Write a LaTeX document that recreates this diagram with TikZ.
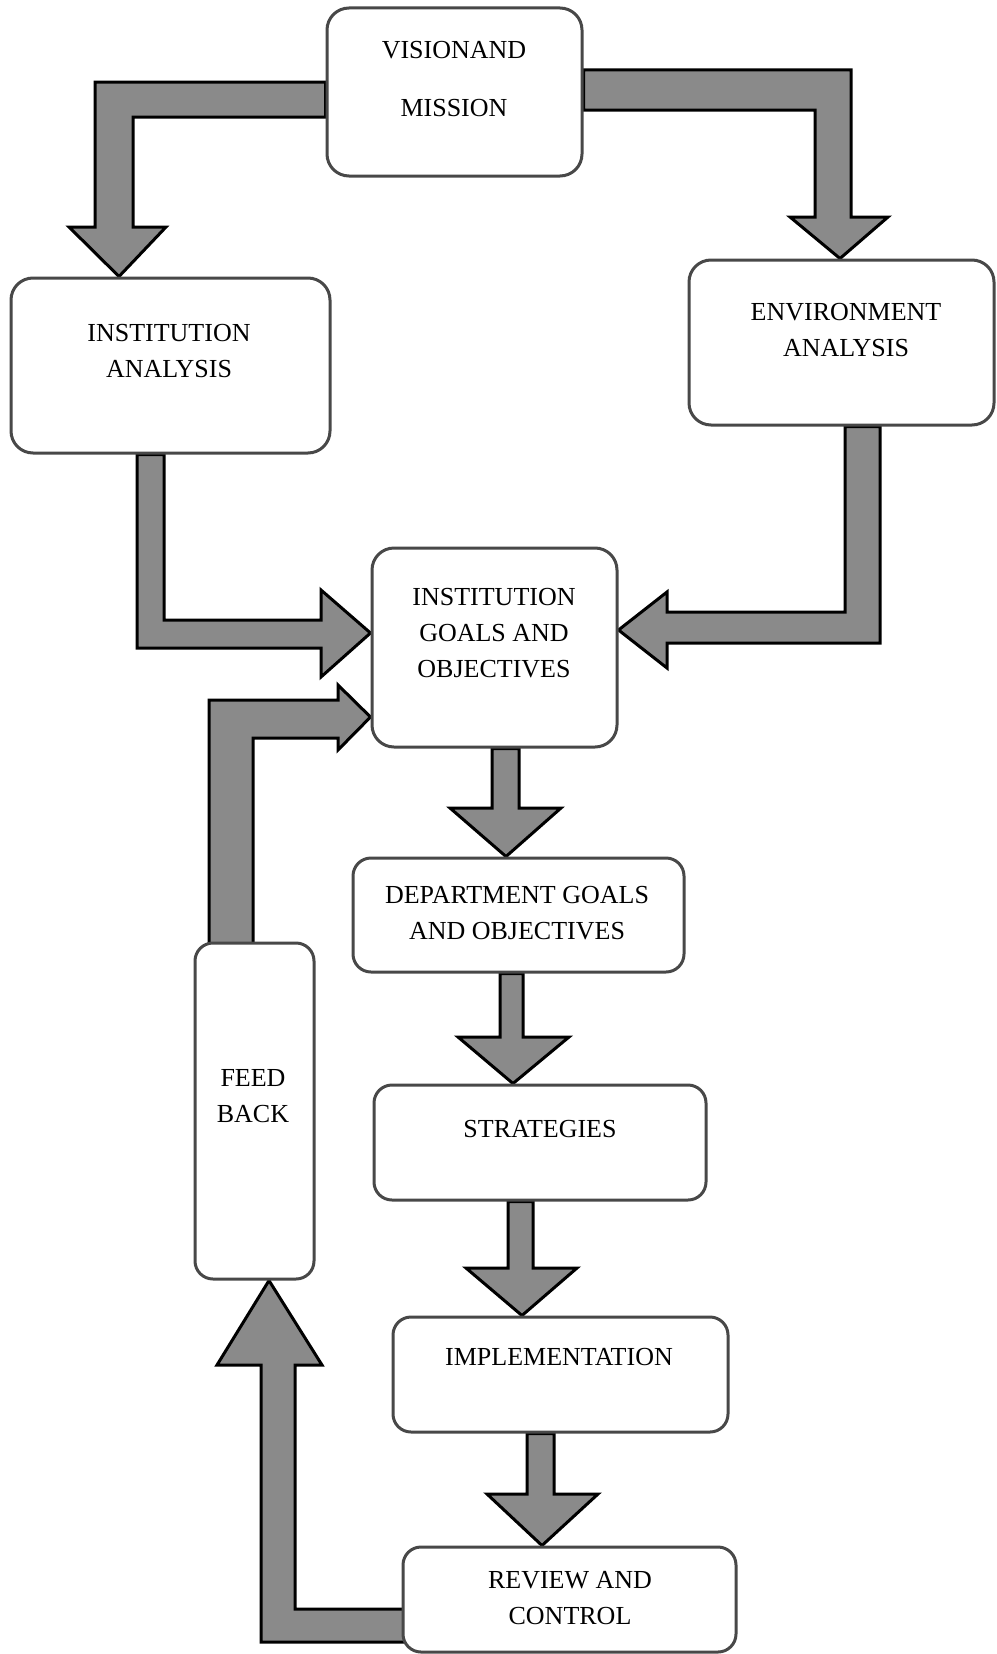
\documentclass[tikz,border=0pt]{standalone}
\usepackage{fontspec}
\setmainfont{Liberation Serif}
\usetikzlibrary{backgrounds,calc}
\definecolor{arrowgray}{RGB}{138,138,138}
\definecolor{boxline}{RGB}{72,72,72}
\begin{document}
\begin{tikzpicture}[x=1pt,y=-1pt,
  box/.style={draw=boxline, line width=3pt, fill=white, rounded corners=22pt, inner sep=0pt},
  smallbox/.style={box, rounded corners=18pt},
  lbl/.style={font=\fontsize{26pt}{36pt}\selectfont, align=center, inner sep=0pt},
  blk/.style={draw=black, line width=3pt, fill=arrowgray, line join=miter}]
\useasboundingbox (0,0) rectangle (996,1654);

% boxes
\node[box, minimum width=255pt, minimum height=168pt] (vision) at (454.5,92) {};
\node[box, minimum width=319pt, minimum height=175pt] (ia) at (170.5,365.5) {};
\node[box, minimum width=305pt, minimum height=165pt] (ea) at (841.5,342.5) {};
\node[box, minimum width=245pt, minimum height=199pt] (igo) at (494.5,647.5) {};
\node[smallbox, minimum width=331pt, minimum height=114pt] (dept) at (518.5,915) {};
\node[smallbox, minimum width=119pt, minimum height=336pt] (fb) at (254.5,1111) {};
\node[smallbox, minimum width=332pt, minimum height=115pt] (strat) at (540,1142.5) {};
\node[smallbox, minimum width=335pt, minimum height=115pt] (impl) at (560.5,1374.5) {};
\node[smallbox, minimum width=333pt, minimum height=105pt] (review) at (569.5,1599.5) {};

% labels
\node[lbl, font=\fontsize{26pt}{58pt}\selectfont] (visionT) at (454,79) {VISIONAND\\MISSION};
\node[lbl] (iaT) at (169,351) {INSTITUTION\\ANALYSIS};
\node[lbl] (eaT) at (846,330) {ENVIRONMENT\\ANALYSIS};
\node[lbl] (igoT) at (494,633) {INSTITUTION\\GOALS AND\\OBJECTIVES};
\node[lbl] (deptT) at (517,913) {DEPARTMENT GOALS\\AND OBJECTIVES};
\node[lbl] (fbT) at (253,1096) {FEED\\BACK};
\node[lbl] (stratT) at (540,1129) {STRATEGIES};
\node[lbl] (implT) at (559,1357) {IMPLEMENTATION};
\node[lbl] (reviewT) at (570,1598) {REVIEW AND\\CONTROL};

% tails pushed inside boxes
\coordinate (fbN) at ($(fb.north)+(0,15)$);
\coordinate (rvW) at ($(review.west)+(20,0)$);

\begin{scope}[on background layer]
\draw[blk] (vision.west |- 0,82) -- (95,82) -- (95,227) -- (69,227) -- (119,0 |- ia.north)
  -- (166,227) -- (133,227) -- (133,117) -- (vision.west |- 0,117) -- cycle;
\draw[blk] (vision.east |- 0,70) -- (851,70) -- (851,217) -- (888,217) -- (840,0 |- ea.north)
  -- (790,217) -- (815,217) -- (815,110) -- (vision.east |- 0,110) -- cycle;
\draw[blk] (137,0 |- ia.south) -- (137,648) -- (321,648) -- (321,677) -- (igo.west |- 0,633)
  -- (321,590) -- (321,620) -- (164,620) -- (164,0 |- ia.south) -- cycle;
\draw[blk] (845,0 |- ea.south) -- (845,612) -- (667,612) -- (667,592) -- (igo.east |- 0,630)
  -- (667,668) -- (667,643) -- (880,643) -- (880,0 |- ea.south) -- cycle;
\draw[blk] (209,0 |- fbN) -- (209,700) -- (338,700) -- (338,685) -- (igo.west |- 0,717)
  -- (338,750) -- (338,738) -- (253,738) -- (253,0 |- fbN) -- cycle;
\draw[blk] (492,0 |- igo.south) -- (492,808) -- (450,808) -- (506,0 |- dept.north)
  -- (561,808) -- (519,808) -- (519,0 |- igo.south) -- cycle;
\draw[blk] (500,0 |- dept.south) -- (500,1037) -- (458,1037) -- (513,0 |- strat.north)
  -- (569,1037) -- (523,1037) -- (523,0 |- dept.south) -- cycle;
\draw[blk] (508,0 |- strat.south) -- (508,1268) -- (466,1268) -- (522,0 |- impl.north)
  -- (577,1268) -- (533,1268) -- (533,0 |- strat.south) -- cycle;
\draw[blk] (527,0 |- impl.south) -- (527,1494) -- (487,1494) -- (542,0 |- review.north)
  -- (598,1494) -- (554,1494) -- (554,0 |- impl.south) -- cycle;
\draw[blk] (rvW |- 0,1609) -- (295,1609) -- (295,1365) -- (322,1365) -- (269,0 |- fb.south)
  -- (217,1365) -- (261,1365) -- (261,1642) -- (rvW |- 0,1642) -- cycle;
\end{scope}
\end{tikzpicture}
\end{document}
